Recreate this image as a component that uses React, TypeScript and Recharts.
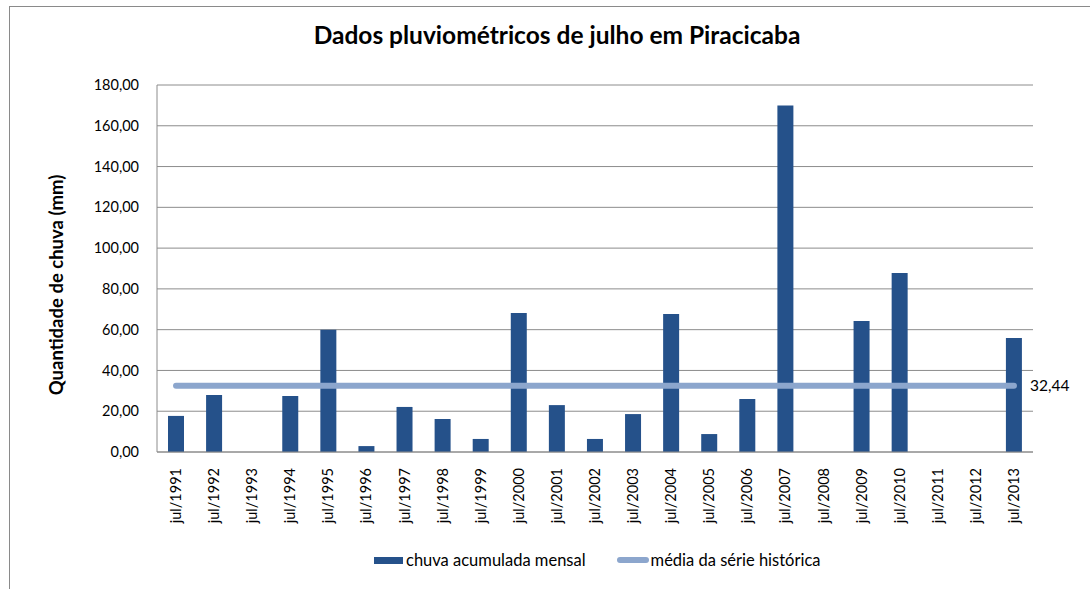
import React from "react";
import {
  ComposedChart,
  Bar,
  XAxis,
  YAxis,
  CartesianGrid,
  ReferenceLine,
} from "recharts";

const meses = [
  "jul/1991", "jul/1992", "jul/1993", "jul/1994", "jul/1995", "jul/1996",
  "jul/1997", "jul/1998", "jul/1999", "jul/2000", "jul/2001", "jul/2002",
  "jul/2003", "jul/2004", "jul/2005", "jul/2006", "jul/2007", "jul/2008",
  "jul/2009", "jul/2010", "jul/2011", "jul/2012", "jul/2013",
];
const chuva = [
  17.7, 28.0, 0, 27.5, 60.0, 2.9, 22.1, 16.2, 6.4, 68.2, 23.0, 6.4,
  18.6, 67.7, 8.8, 26.0, 170.0, 0, 64.2, 87.8, -0.6, 0, 55.9,
];
const mediaSerie = 32.44;
const yTicks = [0, 20, 40, 60, 80, 100, 120, 140, 160, 180];

const FONT = "Lato, 'Open Sans', sans-serif";
const BAR = "#25518a";
const AVG = "#8ca6cd";
const GRID = "#8c8c8c";

const data = meses.map((mes, i) => ({ mes, chuva: chuva[i] }));

const fmt = (v: number) => v.toFixed(2).replace(".", ",");

function MesTick(props: any) {
  const { x, y, payload } = props;
  return (
    <text
      x={x + 5}
      y={y + 8}
      transform={`rotate(-90, ${x + 5}, ${y + 8})`}
      textAnchor="end"
      fontSize={14.5}
      fontFamily={FONT}
      fill="#000"
    >
      {payload.value}
    </text>
  );
}

export default function App() {
  return (
    <div
      style={{
        position: "absolute",
        left: 0,
        top: 0,
        width: 1090,
        height: 589,
        background: "#fff",
        overflow: "hidden",
        fontFamily: FONT,
      }}
    >
      {/* moldura do gráfico */}
      <div
        style={{
          position: "absolute",
          left: 9,
          top: 6,
          width: 1200,
          height: 700,
          border: "1px solid #8a8a8a",
        }}
      />
      <div
        style={{
          position: "absolute",
          top: 20,
          left: 12,
          width: 1090,
          textAlign: "center",
          fontSize: 24.5,
          fontWeight: 700,
          color: "#000",
        }}
      >
        Dados pluviométricos de julho em Piracicaba
      </div>
      <div
        style={{
          position: "absolute",
          left: 56,
          top: 285,
          transform: "translate(-50%, -50%) rotate(-90deg)",
          whiteSpace: "nowrap",
          fontSize: 18.5,
          fontWeight: 700,
          color: "#000",
        }}
      >
        Quantidade de chuva (mm)
      </div>
      <div style={{ position: "absolute", left: 0, top: 0 }}>
        <ComposedChart
          width={1090}
          height={589}
          data={data}
          margin={{ top: 85, right: 57, left: 97, bottom: 0 }}
          barSize={16}
        >
          <CartesianGrid
            vertical={false}
            stroke={GRID}
            strokeWidth={1}
          />
          <XAxis
            dataKey="mes"
            interval={0}
            height={137}
            tick={<MesTick />}
            tickLine={false}
            axisLine={{ stroke: GRID }}
          />
          <YAxis
            domain={[0, 180]}
            ticks={yTicks}
            allowDataOverflow
            width={60}
            tickFormatter={fmt}
            tick={{ fontSize: 14.5, fontFamily: FONT, fill: "#000" }}
            tickLine={false}
            axisLine={{ stroke: GRID }}
            tickMargin={12}
          />
          <Bar dataKey="chuva" fill={BAR} isAnimationActive={false} />
          <ReferenceLine
            segment={[
              { x: meses[0], y: mediaSerie },
              { x: meses[meses.length - 1], y: mediaSerie },
            ]}
            stroke={AVG}
            strokeWidth={6}
            strokeLinecap="round"
            label={{
              value: fmt(mediaSerie),
              position: "right",
              offset: 16,
              fontSize: 15.5,
              fontFamily: FONT,
              fill: "#000",
            }}
          />
        </ComposedChart>
      </div>
      {/* legenda */}
      <div
        style={{
          position: "absolute",
          top: 550,
          left: 374,
          display: "flex",
          alignItems: "center",
          fontSize: 16.5,
          color: "#000",
        }}
      >
        <span style={{ display: "inline-block", width: 29, height: 7, background: BAR }} />
        <span style={{ marginLeft: 3 }}>chuva acumulada mensal</span>
        <span
          style={{
            display: "inline-block",
            width: 32,
            height: 6,
            borderRadius: 3,
            background: AVG,
            marginLeft: 31,
          }}
        />
        <span style={{ marginLeft: 2 }}>média da série histórica</span>
      </div>
    </div>
  );
}
